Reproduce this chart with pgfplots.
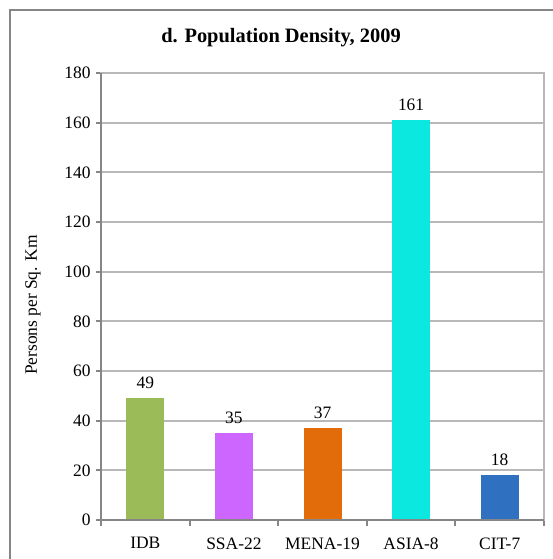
\documentclass[border=0pt]{standalone}
\usepackage{pgfplots}
\pgfplotsset{compat=1.18}
\usepackage{fontspec}
\setmainfont{Liberation Serif}
\definecolor{cIDB}{HTML}{9BBB59}
\definecolor{cSSA}{HTML}{CC66FF}
\definecolor{cMENA}{HTML}{E36C0A}
\definecolor{cASIA}{HTML}{0AE8DF}
\definecolor{cCIT}{HTML}{3070C0}
\definecolor{gridc}{HTML}{B8B8B8}
\definecolor{axc}{HTML}{868686}
\begin{document}
\begin{tikzpicture}
\path[use as bounding box] (0,0) rectangle (553bp,-559bp);
\clip (0,0) rectangle (553bp,-559bp);
\draw[axc, line width=2bp] (10bp,-10bp) rectangle (600bp,-600bp);
\node[font=\fontsize{20.5}{24}\selectfont\bfseries] at (281bp,-38bp) {d. Population Density, 2009};
\node[font=\fontsize{17.5}{20}\selectfont, rotate=90] at (33bp,-305bp) {Persons per Sq. Km};
\begin{axis}[
  at={(101bp,-520bp)}, anchor=south west,
  scale only axis, width=443bp, height=447bp,
  xmin=-0.5, xmax=4.5, ymin=0, ymax=180,
  ytick={0,20,...,180},
  xtick={0,...,4},
  xticklabels={IDB,SSA-22,MENA-19,ASIA-8,CIT-7},
  minor xtick={-0.5,0.5,1.5,2.5,3.5,4.5},
  /pgf/number format/assume math mode=true,
  tick align=outside,
  xtick pos=bottom, ytick pos=left,
  major tick length=5bp, minor tick length=6bp,
  major x tick style={draw=none},
  minor x tick style={axc, line width=2bp},
  y tick style={axc, line width=2bp},
  ymajorgrids, grid style={gridc, line width=2bp},
  axis line style={gridc, line width=1.5bp},
  tick label style={font=\fontsize{17.5}{20}\selectfont},
  xticklabel style={yshift=-9bp},
  yticklabel style={xshift=-2bp},
  ybar, bar width=38bp, bar shift=0pt,
  nodes near coords,
  every node near coord/.append style={font=\fontsize{17.5}{20}\selectfont, black, yshift=6bp},
  clip=false,
]
\addplot[fill=cIDB, draw=none] coordinates {(0,49)};
\addplot[fill=cSSA, draw=none] coordinates {(1,35)};
\addplot[fill=cMENA, draw=none] coordinates {(2,37)};
\addplot[fill=cASIA, draw=none] coordinates {(3,161)};
\addplot[fill=cCIT, draw=none] coordinates {(4,18)};
\draw[axc, line width=2bp] (axis cs:-0.5,180) -- (axis cs:-0.5,0) -- (axis cs:4.5,0);
\end{axis}
\end{tikzpicture}
\end{document}
